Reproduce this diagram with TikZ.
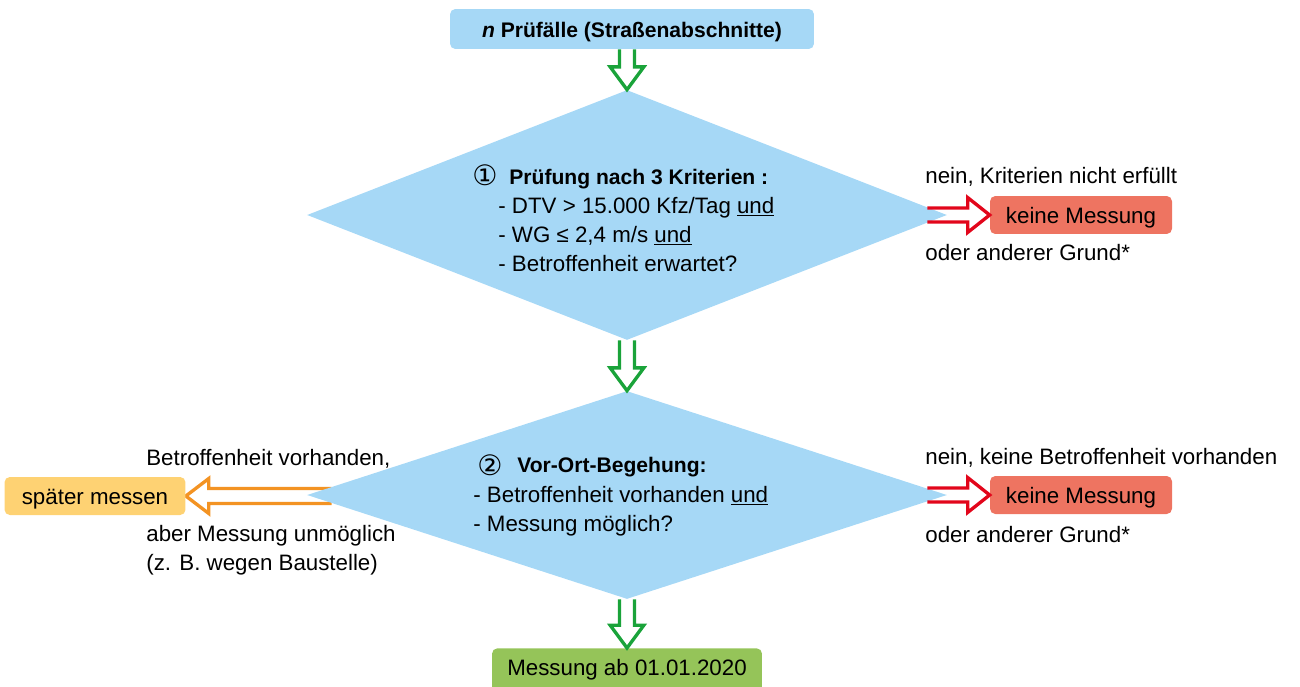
\documentclass[tikz,border=0pt]{standalone}
\usepackage{fontspec}
\setmainfont{Liberation Sans}
\newfontfamily\symfont{DejaVu Sans}
\usetikzlibrary{shapes.geometric,calc}

\definecolor{boxblue}{RGB}{166,216,246}
\definecolor{redbox}{RGB}{238,116,97}
\definecolor{yellowbox}{RGB}{254,210,115}
\definecolor{greenbox}{RGB}{149,196,89}
\definecolor{arrgreen}{RGB}{26,163,58}
\definecolor{arrred}{RGB}{226,6,27}
\definecolor{arrorange}{RGB}{243,147,35}

\pgfdeclarelayer{back}
\pgfsetlayers{back,main}

\tikzset{
  every node/.style={font=\fontsize{12.7}{15}\selectfont, inner sep=0pt},
  txt/.style={anchor=base west},
  boldtxt/.style={anchor=base west, font=\fontsize{12}{14}\selectfont\bfseries},
  symtxt/.style={anchor=base west, font=\fontsize{16}{18}\selectfont\symfont},
  box/.style={rounded corners=3pt, text height=9.2pt, text depth=0pt},
  decision/.style={diamond, fill=boxblue, inner sep=0pt, minimum width=12.8cm},
  hollow/.style={line width=1.9pt, miter limit=10},
  garrow/.style={hollow, draw=arrgreen},
  rarrow/.style={hollow, draw=arrred},
  oarrow/.style={hollow, draw=arrorange},
}

\begin{document}
\begin{tikzpicture}[x=0.02cm, y=-0.02cm]
\useasboundingbox (0,0) rectangle (1300,686);

% start box
\node[box, fill=boxblue, minimum width=7.28cm, minimum height=0.8cm,
      font=\fontsize{12}{14}\selectfont\bfseries] (top) at (632,29)
      {\textit{n} Prüfälle (Straßenabschnitte)};

% decision diamonds
\node[decision, minimum height=5cm] (d1) at (627,215) {};
\node[decision, minimum height=4.16cm] (d2) at (627,495) {};

% first check
\node[symtxt] (c1) at (472,185) {①};
\node[boldtxt] (h1) at (509,184) {Prüfung nach 3 Kriterien :};
\node[txt] (a1) at (498,213) {- DTV > 15.000 Kfz/Tag \underline{und}};
\node[txt] (a2) at (498,242) {- WG ≤ 2,4 m/s \underline{und}};
\node[txt] (a3) at (498,271) {- Betroffenheit erwartet?};

% second check
\node[symtxt] (c2) at (477,475) {②};
\node[boldtxt] (h2) at (517,472) {Vor-Ort-Begehung:};
\node[txt] (b1) at (473,502) {- Betroffenheit vorhanden \underline{und}};
\node[txt] (b2) at (473,531) {- Messung möglich?};

% outcome boxes
\node[box, fill=redbox, minimum width=3.64cm, minimum height=0.76cm] (km1) at (1081,215) {keine Messung};
\node[box, fill=redbox, minimum width=3.64cm, minimum height=0.76cm] (km2) at (1081,495) {keine Messung};
\node[box, fill=yellowbox, minimum width=3.62cm, minimum height=0.76cm] (later) at (95,496) {später messen};
\node[box, fill=greenbox, minimum width=5.4cm, minimum height=1.04cm, anchor=north] (meas) at (627,648) {};
\node[anchor=base] (meastxt) at (627,675) {Messung ab 01.01.2020};

% branch labels
\node[txt] (r1a) at (925,183) {nein, Kriterien nicht erfüllt};
\node[txt] (r1b) at (925,260) {oder anderer Grund*};
\node[txt] (r2a) at (925,464) {nein, keine Betroffenheit vorhanden};
\node[txt] (r2b) at (925,542) {oder anderer Grund*};
\node[txt] (l2a) at (146,465) {Betroffenheit vorhanden,};
\node[txt] (l2b) at (146,541) {aber Messung unmöglich};
\node[txt] (l2c) at (146,570) {(z. B. wegen Baustelle)};

% hollow green arrows down the main path
\draw[garrow] let \p1=(top.south), \p2=(d1.north) in
  (\x2-4.25pt,\y1) -- (\x2-4.25pt,\y2+13pt) -- (\x2-9.6pt,\y2+13pt) -- (\x2,\y2)
  -- (\x2+9.6pt,\y2+13pt) -- (\x2+4.25pt,\y2+13pt) -- (\x2+4.25pt,\y1);
\draw[garrow] let \p1=(d1.south), \p2=(d2.north) in
  (\x2-4.25pt,\y1) -- (\x2-4.25pt,\y2+13pt) -- (\x2-9.6pt,\y2+13pt) -- (\x2,\y2)
  -- (\x2+9.6pt,\y2+13pt) -- (\x2+4.25pt,\y2+13pt) -- (\x2+4.25pt,\y1);
\draw[garrow] let \p1=(d2.south), \p2=(meas.north) in
  (\x1-4.25pt,\y1) -- (\x1-4.25pt,\y2+13pt) -- (\x1-9.6pt,\y2+13pt) -- (\x1,\y2)
  -- (\x1+9.6pt,\y2+13pt) -- (\x1+4.25pt,\y2+13pt) -- (\x1+4.25pt,\y1);

% hollow red arrows to the "no measurement" boxes
\draw[rarrow] let \p1=($(d1.east)+(-20,0)$), \p2=(km1.west) in
  (\x1,\y2+3.97pt) -- (\x2-12.5pt,\y2+3.97pt) -- (\x2-12.5pt,\y2+9.9pt) -- (\x2,\y2)
  -- (\x2-12.5pt,\y2-9.9pt) -- (\x2-12.5pt,\y2-3.97pt) -- (\x1,\y2-3.97pt);
\draw[rarrow] let \p1=($(d2.east)+(-20,0)$), \p2=(km2.west) in
  (\x1,\y2+3.97pt) -- (\x2-12.5pt,\y2+3.97pt) -- (\x2-12.5pt,\y2+9.9pt) -- (\x2,\y2)
  -- (\x2-12.5pt,\y2-9.9pt) -- (\x2-12.5pt,\y2-3.97pt) -- (\x1,\y2-3.97pt);

% hollow orange arrow, tucked beneath the diamond
\begin{pgfonlayer}{back}
\draw[oarrow] let \p1=($(d2.west)+(25,0)$), \p2=(later.east) in
  (\x1,\y2+4.25pt) -- (\x2+13pt,\y2+4.25pt) -- (\x2+13pt,\y2+9.9pt) -- (\x2,\y2)
  -- (\x2+13pt,\y2-9.9pt) -- (\x2+13pt,\y2-4.25pt) -- (\x1,\y2-4.25pt);
\end{pgfonlayer}
\end{tikzpicture}
\end{document}
